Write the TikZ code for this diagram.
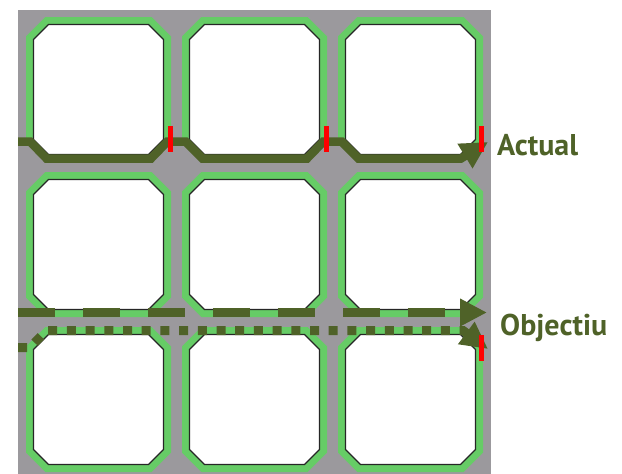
\documentclass[tikz,border=0pt]{standalone}
\usepackage{fontspec}
\setmainfont{PT Sans}
\usetikzlibrary{arrows.meta}
\definecolor{StreetGray}{RGB}{155,153,157}
\definecolor{CurbGreen}{HTML}{66CC66}
\definecolor{RouteOlive}{HTML}{4F6228}
\definecolor{GateRed}{HTML}{FF0000}

\begin{document}
\begin{tikzpicture}[x=1pt,y=-1pt, block/.style={preaction={draw=CurbGreen,line width=15pt},fill=white,draw=black!85,line width=1.2pt}, route/.style={draw=RouteOlive,line width=8.5pt}, gate/.style={fill=GateRed}, tag/.style={text=RouteOlive,font=\bfseries\fontsize{30}{36}\selectfont,inner sep=0pt}]
\useasboundingbox (0,0) rectangle (622,474);
\fill[StreetGray] (18,10) rectangle (491,474);
% illes de cases
\foreach \i in {0,1,2}
  \foreach \j in {0,1,2}
    \draw[block] (33.5+156*\i,24.5+155*\j) ++(15,0) -- ++(100,0) -- ++(15,15) -- ++(0,100) -- ++(-15,15) -- ++(-100,0) -- ++(-15,-15) -- ++(0,-100) -- cycle;
% recorreguts
\coordinate (actualEnd) at (488,142);
\coordinate (goalEnd) at (487,312.5);
\coordinate (altEnd) at (488,349);
\draw[route,-{Triangle[length=27pt,width=27pt]}] (18,141.5) -- (30,141.5) -- (46.5,158.5) -- (151,158.5) -- (167.5,141.5) -- (185.5,141.5) -- (202.5,158.5) -- (307,158.5) -- (323.5,141.5) -- (341.5,141.5) -- (358.5,158.5) -- (461,158.5) -- (actualEnd);
\draw[route,line width=9pt,dash pattern=on 37pt off 28pt,-{Triangle[length=27pt,width=26pt]}] (18,312.5) -- (goalEnd);
\draw[route,line width=9pt,dash pattern=on 9pt off 9.7pt,-{Triangle[length=27pt,width=26pt]}] (18,347.5) -- (30,347.5) -- (46.5,330.5) -- (463,330.5) -- (altEnd);
% semafors
\foreach \x in {170.5,326.5,481.5}
  \fill[gate] (\x-2.5,126) rectangle (\x+2.5,152);
\fill[gate] (479,335) rectangle (484,361);
\node[tag,anchor=base west] (actual) at (497,155) {Actual};
\node[tag,anchor=base west] (objectiu) at (500,335) {Objectiu};
\end{tikzpicture}
\end{document}
